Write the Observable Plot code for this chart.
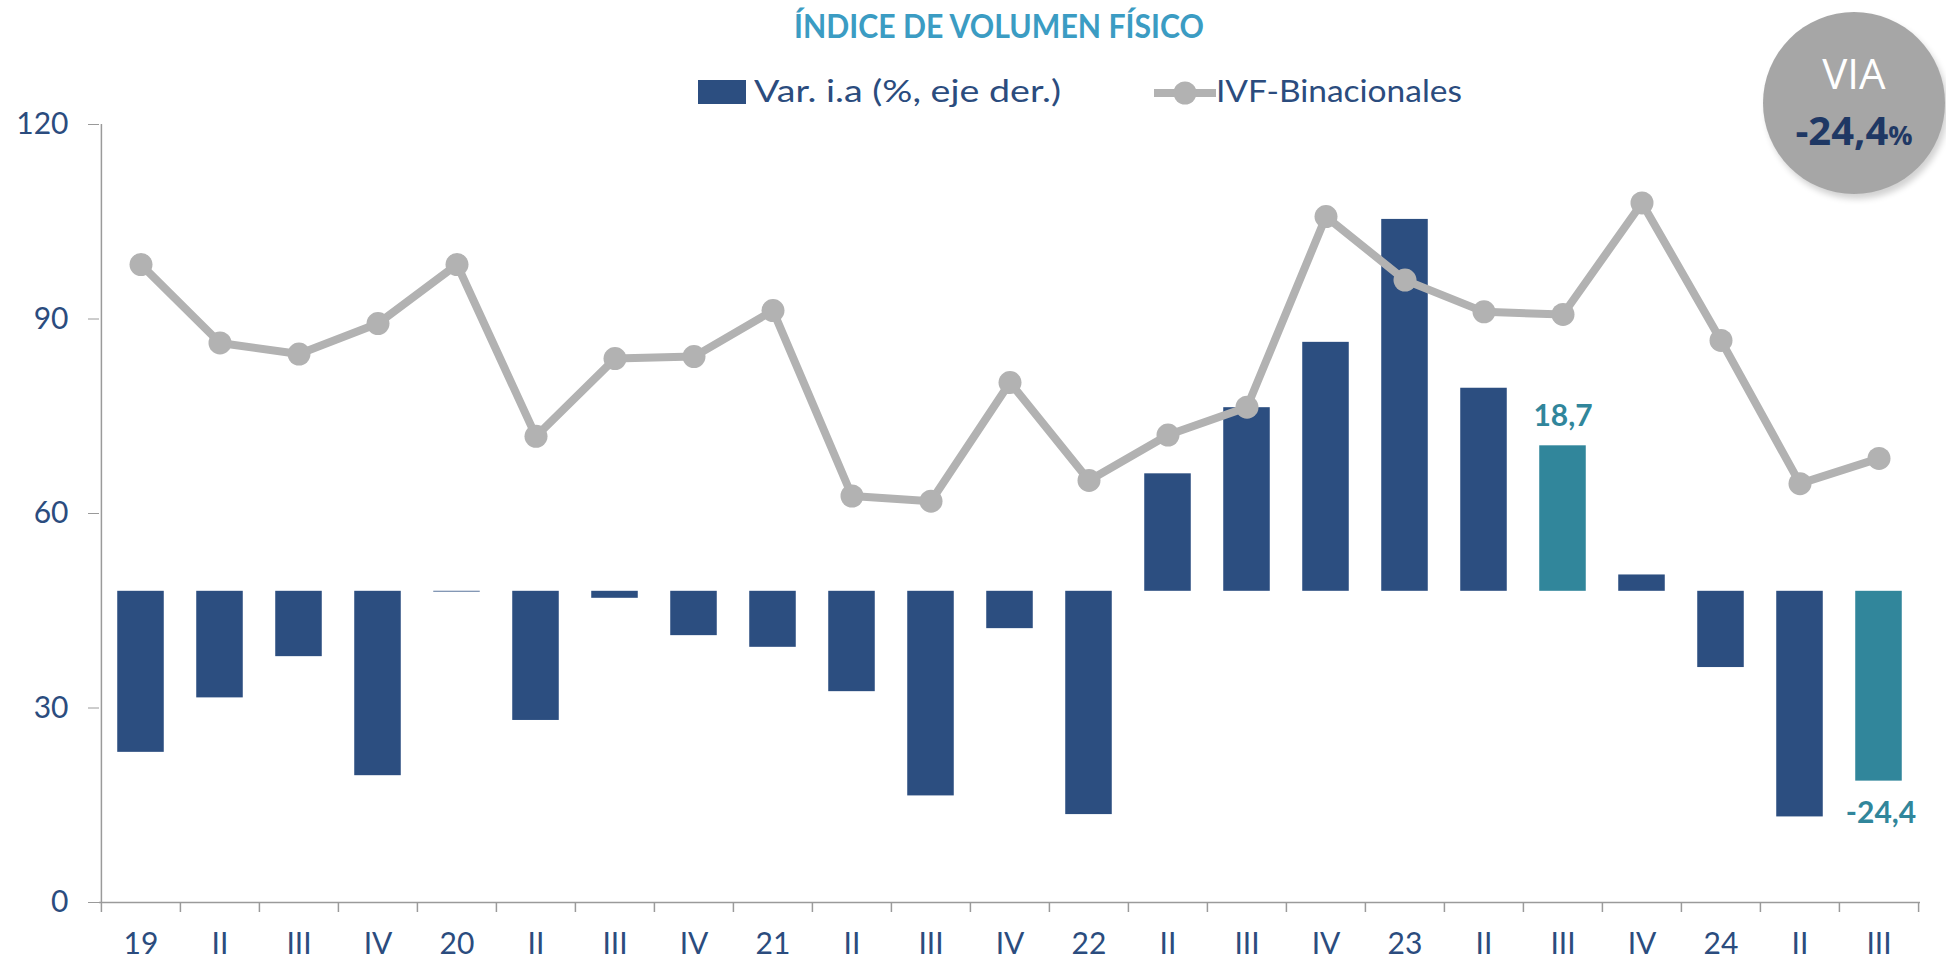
<!DOCTYPE html>
<html>
<head>
<meta charset="utf-8">
<script src="https://cdn.jsdelivr.net/npm/d3@7"></script>
<script src="https://cdn.jsdelivr.net/npm/@observablehq/plot@0.6"></script>
<style>
  html, body { margin: 0; padding: 0; background: #fff; width: 1946px; height: 963px; overflow: hidden; }
  #wrap { position: relative; width: 1946px; height: 963px; font-family: Lato, "Open Sans", sans-serif; }
  #chart { position: absolute; left: 0; top: 0; }
  .fit { position: absolute; white-space: nowrap; line-height: 1; transform-origin: 0 0; }
  #title { color: #3b9cc3; font-weight: 700; font-size: 33px; }
  .leg { color: #2b4c7e; font-size: 30px; }
  #legBar { position: absolute; background: #2c4e80; }
  #badge { position: absolute; border-radius: 50%; background: #a6a6a6; box-shadow: 3px 5px 6px rgba(0,0,0,0.18); }
  #via { color: #fff; font-size: 42px; font-family: "Open Sans", sans-serif; }
  #pct { color: #1f3864; font-weight: 700; font-size: 40px; font-family: "Open Sans", sans-serif; }
  #pct small { font-size: 27px; }
</style>
</head>
<body>
<div id="wrap">
  <div id="chart"></div>
  <div id="title" class="fit">ÍNDICE DE VOLUMEN FÍSICO</div>
  <div id="legBar"></div>
  <div id="legText1" class="fit leg">Var. i.a (%, eje der.)</div>
  <svg id="legLine" style="position:absolute;left:1150px;top:78px" width="70" height="30">
    <line x1="4" y1="15" x2="66" y2="15" stroke="#b2b2b2" stroke-width="8"></line>
    <circle cx="35" cy="15" r="11.5" fill="#b2b2b2"></circle>
  </svg>
  <div id="legText2" class="fit leg">IVF-Binacionales</div>
  <div id="badge"></div>
  <div id="via" class="fit">VIA</div>
  <div id="pct" class="fit">-24,4<small>%</small></div>
</div>
<script>
// ---- data ----
const quarters = ["19","II","III","IV","20","II","III","IV","21","II","III","IV","22","II","III","IV","23","II","III","IV","24","II","III"];
const ivf = [98.4, 86.3, 84.6, 89.3, 98.4, 71.9, 83.9, 84.2, 91.3, 62.7, 61.9, 80.2, 65.1, 72.1, 76.4, 105.8, 96.0, 91.1, 90.7, 107.9, 86.7, 64.6, 68.5];
const varIa = [-20.7, -13.7, -8.4, -23.7, -0.1, -16.6, -0.9, -5.7, -7.2, -12.9, -26.3, -4.8, -28.7, 15.1, 23.6, 32.0, 47.8, 26.1, 18.7, 2.1, -9.8, -29.0, -24.4];
const highlighted = [18, 22];
const leftTicks = [0, 30, 60, 90, 120];
const rightDomain = [-40, 60];
const viaValue = -24.4;

// ---- layout ----
const W = 1946, H = 963;
const mL = 99, mR = 26, mT = 124, mB = 61;
const n = quarters.length;
const bw = (W - mL - mR) / n;
const barW = 46.7;
const inset = (bw - barW) / 2;
const navy = "#2c4e80", teal = "#31869b", grey = "#b2b2b2", axisGrey = "#9a9a9a", textBlue = "#2b4c7e";

const data = quarters.map((q, i) => ({i, q, ivf: ivf[i], v: varIa[i], hl: highlighted.includes(i)}));
const right = d3.scaleLinear(rightDomain, [0, 120]);
const fmt = v => d3.format(".1f")(v).replace(".", ",").replace("−", "-");

const chart = Plot.plot({
  width: W, height: H,
  marginLeft: mL, marginRight: mR, marginTop: mT, marginBottom: mB,
  style: {fontFamily: "Lato, 'Open Sans', sans-serif", background: "transparent"},
  x: {type: "band", domain: d3.range(n), padding: 0, label: null},
  y: {domain: [0, 120], label: null},
  marks: [
    Plot.barY(data, {filter: d => !d.hl, x: "i", y1: d => right(0), y2: d => right(d.v), fill: navy, insetLeft: inset, insetRight: inset}),
    Plot.barY(data, {filter: d => d.hl, x: "i", y1: d => right(0), y2: d => right(d.v), fill: teal, insetLeft: inset, insetRight: inset}),
    Plot.ruleY([0], {stroke: axisGrey, strokeWidth: 1.5}),
    Plot.ruleX([0], {x: d => d, dx: -bw / 2, stroke: axisGrey, strokeWidth: 1.5}),
    Plot.ruleX(d3.range(n), {x: d => d, y1: 0, y2: 0, insetBottom: -10, dx: -bw / 2, stroke: axisGrey, strokeWidth: 1.5}),
    Plot.ruleX([n - 1], {x: d => d, y1: 0, y2: 0, insetBottom: -10, dx: bw / 2, stroke: axisGrey, strokeWidth: 1.5}),
    Plot.line(data, {x: "i", y: "ivf", stroke: grey, strokeWidth: 8}),
    Plot.dot(data, {x: "i", y: "ivf", r: 11.5, fill: grey}),
    Plot.text(data, {filter: d => d.hl && d.v >= 0, x: "i", y: d => right(d.v), text: d => fmt(d.v), dy: -29, fill: teal, fontWeight: 700, fontSize: 30}),
    Plot.text(data, {filter: d => d.hl && d.v < 0, x: "i", y: d => right(d.v), text: d => fmt(d.v), dy: 32, dx: 2, fill: teal, fontWeight: 700, fontSize: 30}),
    Plot.axisY({ticks: leftTicks, tickSize: 11, tickPadding: 20, stroke: axisGrey, fill: textBlue, fontSize: 30, label: null}),
    Plot.axisX({tickSize: 0, tickPadding: 30, tickFormat: i => quarters[i], fill: textBlue, fontSize: 30, label: null})
  ]
});
document.getElementById("chart").appendChild(chart);

// ---- overlays (title, legend, badge) ----
function place(id, left, capTop, fontSize, targetWidth) {
  const el = document.getElementById(id);
  el.style.left = left + "px";
  el.style.top = (capTop - 0.167 * fontSize) + "px";
  if (targetWidth) {
    const w = el.getBoundingClientRect().width;
    el.style.transform = `scaleX(${targetWidth / w})`;
  }
}
function placeCenter(id, cx, capTop, fontSize) {
  const el = document.getElementById(id);
  const w = el.getBoundingClientRect().width;
  el.style.left = (cx - w / 2) + "px";
  el.style.top = (capTop - 0.2 * fontSize) + "px";
}
place("title", 794, 15, 33, 410);
place("legText1", 754, 80, 30, 307);
place("legText2", 1216, 80, 30, 246);
const lb = document.getElementById("legBar");
Object.assign(lb.style, {left: "698px", top: "80px", width: "48px", height: "24px"});
const badge = document.getElementById("badge");
Object.assign(badge.style, {left: "1763px", top: "12px", width: "182px", height: "182px"});
document.getElementById("pct").firstChild.nodeValue = fmt(viaValue);
placeCenter("via", 1854, 60, 42);
placeCenter("pct", 1854, 118, 40);
</script>
</body>
</html>
